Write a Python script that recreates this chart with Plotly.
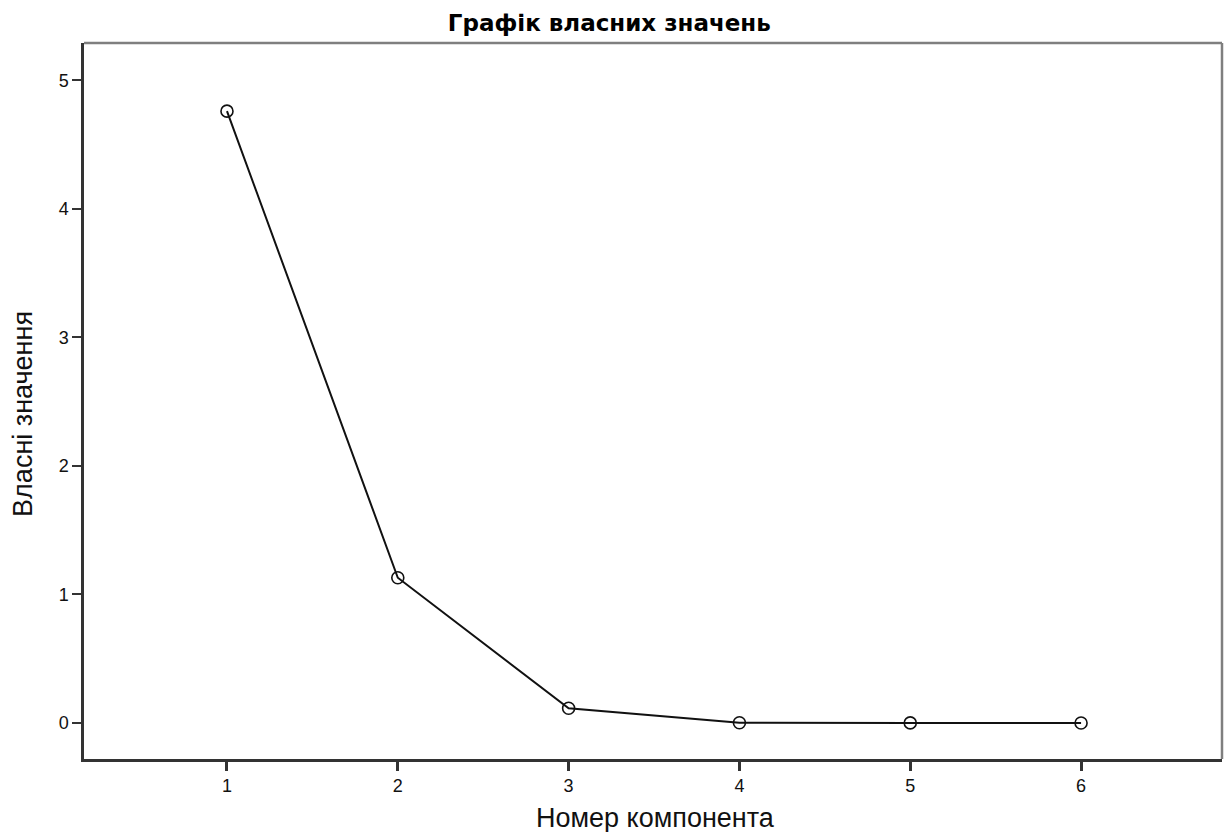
import plotly.graph_objects as go

components = [1, 2, 3, 4, 5, 6]
eigenvalues = [4.76, 1.13, 0.115, 0.002, 0.001, 0.0]
x_ticks = [1, 2, 3, 4, 5, 6]
y_ticks = [0, 1, 2, 3, 4, 5]
title_text = "Графік власних значень"
x_title = "Номер компонента"
y_title = "Власні значення"

fig = go.Figure()
fig.add_trace(go.Scatter(
    x=components, y=eigenvalues, mode="lines+markers",
    line=dict(color="#111111", width=2),
    marker=dict(symbol="circle-open", size=12, color="#111111", line=dict(width=1.6)),
    showlegend=False,
))

frame_grey = dict(color="#7f7f7f", width=2.5)
fig.update_layout(
    width=1226, height=832,
    paper_bgcolor="white", plot_bgcolor="white",
    margin=dict(l=84, r=4, t=43, b=73),
    font=dict(family="Liberation Sans, Arial, sans-serif", color="#111111"),
    title=dict(text="<b>" + title_text + "</b>", x=0.497, xanchor="center",
               y=0.973, yanchor="middle",
               font=dict(family="DejaVu Sans, sans-serif", size=23, color="#000000")),
    annotations=[
        dict(text=x_title, xref="paper", yref="paper", x=0.5026, y=-0.083,
             xanchor="center", yanchor="middle", showarrow=False,
             font=dict(size=27, color="#111111")),
        dict(text=y_title, xref="paper", yref="paper", x=-0.0536, y=0.482,
             xanchor="center", yanchor="middle", showarrow=False, textangle=-90,
             font=dict(size=27, color="#111111")),
    ],
    shapes=[
        dict(type="line", xref="paper", yref="paper", x0=0, x1=1, y0=1, y1=1, line=frame_grey),
        dict(type="line", xref="paper", yref="paper", x0=1, x1=1, y0=0, y1=1, line=frame_grey),
    ],
)
fig.update_xaxes(
    range=[0.163, 6.825], tickvals=x_ticks, ticks="outside", ticklen=9, tickwidth=2.5,
    tickcolor="#333333", showline=True, linecolor="#333333", linewidth=2.5,
    showgrid=False, zeroline=False, tickfont=dict(size=18),
)
fig.update_yaxes(
    range=[-0.28, 5.29], tickvals=y_ticks, ticks="outside", ticklen=9, tickwidth=2,
    tickcolor="#333333", showline=True, linecolor="#333333", linewidth=2.5,
    showgrid=False, zeroline=False, tickfont=dict(size=18),
)

fig.write_html("out.html", config={"displayModeBar": False},
               post_script="document.body.style.margin='0';document.body.style.overflow='hidden';")
